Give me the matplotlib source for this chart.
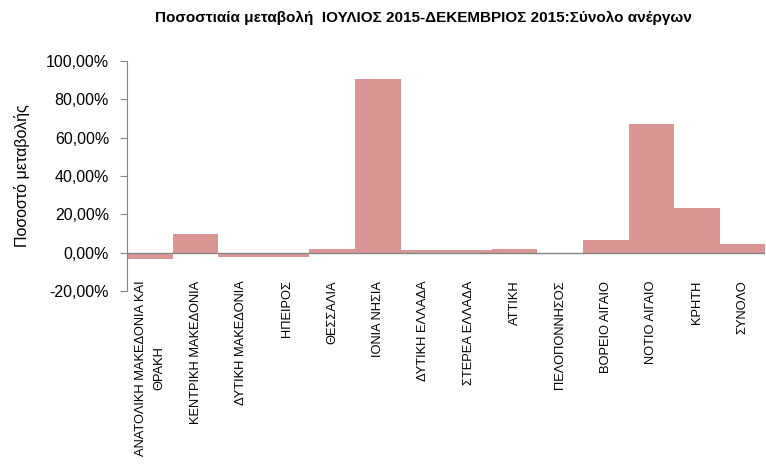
import matplotlib
matplotlib.use('Agg')
import matplotlib.pyplot as plt
from matplotlib.ticker import FuncFormatter

plt.rcParams['font.family'] = ['Liberation Sans', 'DejaVu Sans']

regions = ['ΑΝΑΤΟΛΙΚΗ ΜΑΚΕΔΟΝΙΑ ΚΑΙ\nΘΡΑΚΗ', 'ΚΕΝΤΡΙΚΗ ΜΑΚΕΔΟΝΙΑ', 'ΔΥΤΙΚΗ ΜΑΚΕΔΟΝΙΑ',
           'ΗΠΕΙΡΟΣ', 'ΘΕΣΣΑΛΙΑ', 'ΙΟΝΙΑ ΝΗΣΙΑ', 'ΔΥΤΙΚΗ ΕΛΛΑΔΑ', 'ΣΤΕΡΕΑ ΕΛΛΑΔΑ',
           'ΑΤΤΙΚΗ', 'ΠΕΛΟΠΟΝΝΗΣΟΣ', 'ΒΟΡΕΙΟ ΑΙΓΑΙΟ', 'ΝΟΤΙΟ ΑΙΓΑΙΟ', 'ΚΡΗΤΗ', 'ΣΥΝΟΛΟ']
change = [-3.1, 9.9, -2.2, -2.2, 1.9, 90.3, 1.2, 1.2, 1.9, -0.7, 6.6, 67.2, 23.4, 4.8]

fig = plt.figure(figsize=(7.66, 4.68), dpi=100)
ax = fig.add_axes([0.166, 0.378, 0.833, 0.492])

ax.bar(range(len(regions)), change, width=1.0, color='#D99694', edgecolor='none')
ax.axhline(0, color='#868686', lw=1)

ax.set_xlim(-0.5, len(regions) - 0.5)
ax.set_ylim(-20, 100)
ax.set_yticks(range(-20, 101, 20))
ax.yaxis.set_major_formatter(FuncFormatter(lambda v, p: ('%.2f%%' % v).replace('.', ',')))
ax.tick_params(axis='y', labelsize=11.5, length=5, color='#868686', direction='out', pad=8)

for s in ['top', 'right', 'bottom']:
    ax.spines[s].set_visible(False)
ax.spines['left'].set_color('#868686')

ax.set_xticks([])
for i, name in enumerate(regions):
    ax.text(i, -14.5, name, rotation=90, ha='center', va='top', fontsize=9.3,
            multialignment='center', linespacing=1.7)

ax.set_ylabel('Ποσοστό μεταβολής', fontsize=11.5)
ax.yaxis.set_label_coords(-0.153, 0.5)

fig.text(0.553, 0.962, 'Ποσοστιαία μεταβολή  ΙΟΥΛΙΟΣ 2015-ΔΕΚΕΜΒΡΙΟΣ 2015:Σύνολο ανέργων',
         ha='center', va='center', fontsize=11, fontweight='bold')

fig.savefig('out.png', dpi=100)
